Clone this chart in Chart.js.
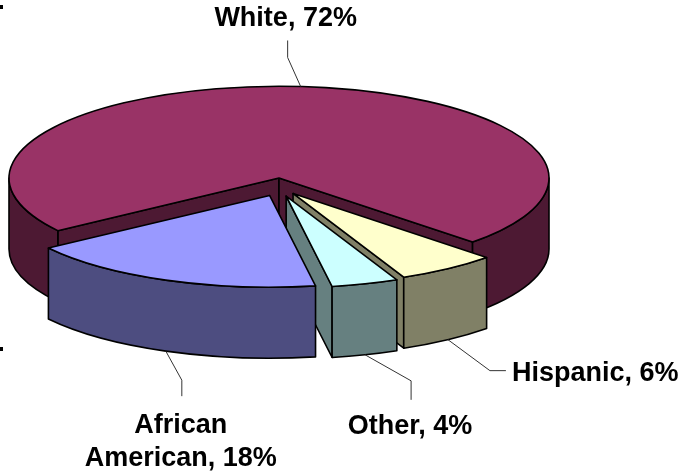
<!DOCTYPE html>
<html>
<head>
<meta charset="utf-8">
<script src="https://cdn.jsdelivr.net/npm/chart.js@4.4.0/dist/chart.umd.min.js"></script>
<style>
html,body{margin:0;padding:0;background:#fff;}
#wrap{width:681px;height:471px;position:relative;overflow:hidden;}
canvas{display:block;}
</style>
</head>
<body>
<div id="wrap"><canvas id="c" width="681" height="471"></canvas></div>
<script>
// ---- data ----
const categories = ['White', 'Hispanic', 'Other', 'African American'];
const values = [72, 6, 4, 18];
const labelLines = [['White, 72%'], ['Hispanic, 6%'], ['Other, 4%'], ['African', 'American, 18%']];

// ---- styles ----
const topColors  = ['#993366', '#FFFFCC', '#CCFFFF', '#9999FF'];
const sideColors = ['#4D1933', '#808066', '#668080', '#4D4D80'];
const explodeDist = [0, 24.5, 24.5, 24.5];
const TILT = 0.34;        // vertical squash of the pie top
const EXPLODE_TILT = 0.77; // vertical factor of the explode shift
const DEPTH = 71;          // thickness of the pie
// leader line elbows / label placement relative to the slice anchor
const leaderLayout = [
  {elbow: [-13, -29], end: [-13, -46], align: 'center', tx: -2, ty: [-14]},
  {elbow: [42, 31],  end: [58, 31],   align: 'left',   tx: 6,  ty: [10]},
  {elbow: [46, 26],  end: [46, 45],   align: 'center', tx: -1, ty: [34]},
  {elbow: [16, 29],  end: [16, 45],   align: 'center', tx: -1, ty: [37, 70]}
];
const FONT = 'bold 27px "Liberation Sans", Arial, sans-serif';

function shiftOf(el, i) {
  const m = (el.startAngle + el.endAngle) / 2;
  const d = explodeDist[i];
  return {x: d * Math.cos(m), y: d * Math.sin(m) * EXPLODE_TILT};
}

const pie3d = {
  id: 'pie3d',
  beforeDatasetsDraw(chart) {
    const ctx = chart.ctx;
    const arcs = chart.getDatasetMeta(0).data;
    const order = [0, 1, 2, 3];
    ctx.save();
    ctx.lineJoin = 'round';
    ctx.strokeStyle = '#000';
    ctx.lineWidth = 1.6;
    order.forEach(i => {
      const el = arcs[i];
      const sh = shiftOf(el, i);
      const X = el.x + sh.x, Y = el.y + sh.y;
      const R = el.outerRadius, r = R * TILT;
      const a1 = el.startAngle, a2 = el.endAngle;
      const rim = (a) => [X + R * Math.cos(a), Y + r * Math.sin(a)];
      ctx.fillStyle = sideColors[i];
      // cut faces
      const cut = (a) => {
        const p = rim(a);
        ctx.beginPath();
        ctx.moveTo(X, Y); ctx.lineTo(p[0], p[1]);
        ctx.lineTo(p[0], p[1] + DEPTH); ctx.lineTo(X, Y + DEPTH);
        ctx.closePath(); ctx.fill(); ctx.stroke();
      };
      if (Math.cos(a1) < 0) cut(a1);
      if (Math.cos(a2) > 0) cut(a2);
      // outer wall (front half only)
      const TAU = Math.PI * 2;
      for (let k = Math.floor(a1 / TAU) - 1; k <= Math.ceil(a2 / TAU); k++) {
        const lo = Math.max(a1, k * TAU), hi = Math.min(a2, k * TAU + Math.PI);
        if (hi > lo) {
          ctx.beginPath();
          ctx.ellipse(X, Y, R, r, 0, lo, hi, false);
          ctx.ellipse(X, Y + DEPTH, R, r, 0, hi, lo, true);
          ctx.closePath(); ctx.fill(); ctx.stroke();
        }
      }
      // top face drawn by Chart.js arc element, squashed
      ctx.save();
      ctx.translate(sh.x, sh.y + el.y * (1 - TILT));
      ctx.scale(1, TILT);
      el.draw(ctx);
      ctx.restore();
      ctx.beginPath();
      ctx.moveTo(X, Y);
      ctx.ellipse(X, Y, R, r, 0, a1, a2, false);
      ctx.closePath();
      ctx.stroke();
    });
    ctx.restore();
    return false;
  },
  afterDraw(chart) {
    const ctx = chart.ctx;
    const arcs = chart.getDatasetMeta(0).data;
    ctx.save();
    // two tiny marks at the left edge of the original picture
    ctx.fillStyle = '#000';
    ctx.fillRect(0, 5, 3, 4);
    ctx.fillRect(0, 347, 3, 4);
    arcs.forEach((el, i) => {
      const sh = shiftOf(el, i);
      const m = (el.startAngle + el.endAngle) / 2;
      const R = el.outerRadius;
      let ax = el.x + sh.x + R * Math.cos(m);
      let ay = el.y + sh.y + R * TILT * Math.sin(m);
      if (Math.sin(m) > 0) ay += DEPTH;
      const L = leaderLayout[i];
      const ex = ax + L.elbow[0], ey = ay + L.elbow[1];
      const fx = ax + L.end[0], fy = ay + L.end[1];
      ctx.strokeStyle = '#333';
      ctx.lineWidth = 1;
      ctx.beginPath();
      ctx.moveTo(ax, ay); ctx.lineTo(ex, ey); ctx.lineTo(fx, fy);
      ctx.stroke();
      ctx.fillStyle = '#000';
      ctx.font = FONT;
      ctx.textAlign = L.align;
      ctx.textBaseline = 'alphabetic';
      labelLines[i].forEach((t, j) => {
        ctx.fillText(t, fx + L.tx, fy + L.ty[j]);
      });
    });
    ctx.restore();
  }
};

new Chart(document.getElementById('c'), {
  type: 'pie',
  data: {
    labels: categories,
    datasets: [{
      data: values,
      backgroundColor: topColors,
      borderWidth: 0,
      hoverOffset: 0
    }]
  },
  options: {
    responsive: false,
    animation: false,
    events: [],
    rotation: 235,
    radius: 270,
    layout: {padding: {left: 0, right: 123, top: 0, bottom: 115}},
    plugins: {legend: {display: false}, tooltip: {enabled: false}}
  },
  plugins: [pie3d]
});
</script>
</body>
</html>
